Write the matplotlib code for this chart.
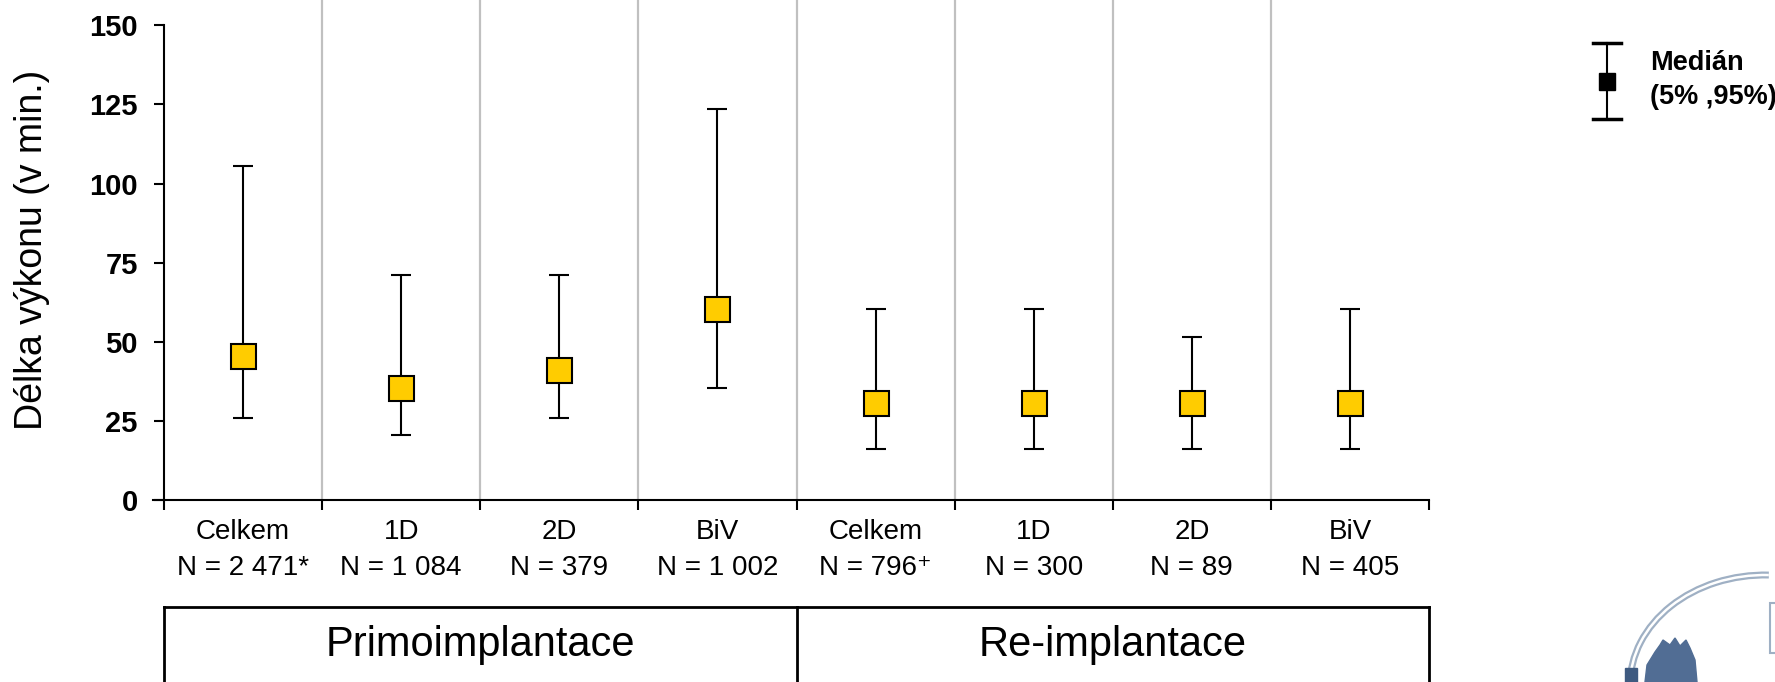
import numpy as np
import matplotlib.pyplot as plt
from matplotlib.transforms import blended_transform_factory
from matplotlib.patches import Polygon, Rectangle, Arc

# data
categories = ['Celkem', '1D', '2D', 'BiV', 'Celkem', '1D', '2D', 'BiV']
n_labels = ['N = 2 471*', 'N = 1 084', 'N = 379', 'N = 1 002',
            'N = 796\u207a', 'N = 300', 'N = 89', 'N = 405']
median = np.array([45.5, 35.5, 41, 60.5, 30.5, 30.5, 30.5, 30.5])
p5 = np.array([26, 20.5, 26, 35.5, 16, 16, 16, 16])
p95 = np.array([105.5, 71, 71, 123.5, 60.5, 60.5, 51.5, 60.5])
groups = ['Primoimplantace', 'Re-implantace']
group_size = [4, 4]
yticks = [0, 25, 50, 75, 100, 125, 150]

plt.rcParams['font.family'] = ['Liberation Sans', 'DejaVu Sans']

fig = plt.figure(figsize=(17.75, 6.82), dpi=100)
ax = fig.add_axes([153 / 1775, 182 / 682, 1276 / 1775, 500 / 682])

x = np.arange(len(categories))
bounds = np.arange(len(categories) + 1) - 0.5

# grey separators between categories
ax.vlines(bounds[1:-1], 0, 158, color='#c0c0c0', lw=1.6, zorder=0)

ax.errorbar(x, median, yerr=[median - p5, p95 - median], fmt='s', ms=18,
            mfc='#FFCC00', mec='black', mew=1.5, ecolor='black',
            elinewidth=1.5, capsize=7.2, capthick=2.5, zorder=3)

ax.set_xlim(-0.57, 7.5)
ax.set_ylim(0, 158)
for s in ['top', 'right']:
    ax.spines[s].set_visible(False)
ax.spines['left'].set_position(('data', -0.5))
ax.spines['left'].set_bounds(0, 150)
ax.spines['bottom'].set_bounds(-0.57, 7.5)
for s in ['left', 'bottom']:
    ax.spines[s].set_linewidth(1.5)

ax.set_yticks(yticks)
ax.set_yticklabels([str(v) for v in yticks], fontsize=21, fontweight='bold')
ax.tick_params(axis='y', direction='out', length=7, width=1.5, pad=12)

ax.set_xticks(bounds)
ax.set_xticklabels([])
ax.tick_params(axis='x', which='major', direction='out', length=7, width=1.5)
ax.set_xticks(x, minor=True)
ax.set_xticklabels([c + '\n' + n for c, n in zip(categories, n_labels)],
                   minor=True, fontsize=20, linespacing=1.5)
ax.tick_params(axis='x', which='minor', length=0, pad=14)

ax.set_ylabel('Délka výkonu (v min.)', fontsize=27, labelpad=28)

# group table under the axis
tr = blended_transform_factory(ax.transData, fig.transFigure)
y_top = 1 - 607 / 682
edges = np.concatenate([[0], np.cumsum(group_size)]) - 0.5
ax.plot([edges[0], edges[-1]], [y_top, y_top], color='black', lw=2,
        transform=tr, clip_on=False)
for e in edges:
    ax.plot([e, e], [y_top, -0.05], color='black', lw=2, transform=tr,
            clip_on=False)
for i, g in enumerate(groups):
    ax.text((edges[i] + edges[i + 1]) / 2, 1 - 645 / 682, g, transform=tr,
            ha='center', va='center', fontsize=30)

# legend symbol, top right (pixel coordinates)
lg = fig.add_axes([1560 / 1775, 1 - 140 / 682, 215 / 1775, 130 / 682])
lg.set_xlim(1560, 1775)
lg.set_ylim(140, 10)
lg.axis('off')
lg.plot([1607, 1607], [43, 119], color='black', lw=1.5)
lg.plot([1593, 1621], [43, 43], color='black', lw=2.5)
lg.plot([1593, 1621], [119, 119], color='black', lw=2.5)
lg.add_patch(Rectangle((1599, 73), 16, 17, color='black'))
lg.text(1650, 63, 'Medián', fontsize=19.5, fontweight='bold', va='center')
lg.text(1650, 97, '(5% ,95%)', fontsize=19.5, fontweight='bold', va='center')

# small logo bottom right
lo = fig.add_axes([1600 / 1775, 0, 175 / 1775, 202 / 682])
lo.set_xlim(0, 175)
lo.set_ylim(202, 0)
lo.axis('off')
lo.add_patch(Arc((165, 205), 270, 220, theta1=180, theta2=272,
                 color='#9fb0c4', lw=5))
lo.add_patch(Arc((165, 205), 270, 220, theta1=180, theta2=272,
                 color='white', lw=1.8))
lo.add_patch(Polygon([[45, 202], [47, 185], [55, 172], [60, 165], [63, 160],
                      [70, 165], [75, 158], [80, 166], [86, 160], [90, 168],
                      [95, 180], [97, 202]], color='#516d94'))
lo.add_patch(Rectangle((25, 188), 12, 20, color='#3e5a80'))
lo.add_patch(Rectangle((170, 123), 10, 50, fc='white', ec='#9fb0c4', lw=1.5))

fig.savefig('out.png', dpi=100)
